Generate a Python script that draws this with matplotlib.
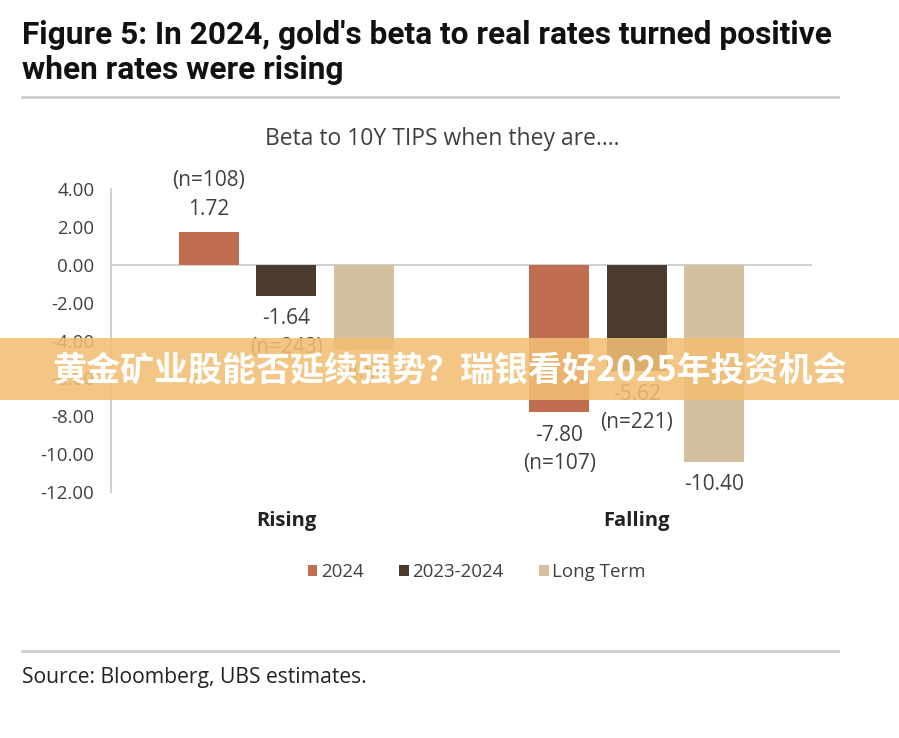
import matplotlib.pyplot as plt
import numpy as np
from matplotlib.patches import Rectangle

categories = ["Rising", "Falling"]
series_names = ["2024", "2023-2024", "Long Term"]
beta_2024 = [1.72, -7.80]
beta_2023_2024 = [-1.64, -5.62]
beta_long_term = [-4.50, -10.40]
n_2024 = ["(n=108)", "(n=107)"]
n_2023_2024 = ["(n=243)", "(n=221)"]
y_ticks = [4, 2, 0, -2, -4, -6, -8, -10, -12]

colors = ["#C06D52", "#4B3B2F", "#D3C09E"]
text_color = "#404040"
font = "Open Sans"

fig = plt.figure(figsize=(8.99, 7.38), dpi=100)
ax = fig.add_axes([111/899, 1-492/738, (812-111)/899, (492-189)/738])

x = np.arange(len(categories))
offset = 0.221
width = 0.171
all_series = [beta_2024, beta_2023_2024, beta_long_term]
n_labels = [n_2024, n_2023_2024, None]
for i, vals in enumerate(all_series):
    xs = x + (i-1)*offset
    ax.bar(xs, vals, width, color=colors[i], label=series_names[i], zorder=2)
    for j, v in enumerate(vals):
        sign = 1 if v >= 0 else -1
        ax.annotate("%.2f" % v, (xs[j], v), xytext=(0, sign*16.5), textcoords="offset points",
                    ha="center", va="center", fontsize=15, color=text_color, family=font)
        if n_labels[i] is not None:
            ax.annotate(n_labels[i][j], (xs[j], v), xytext=(0, sign*37), textcoords="offset points",
                        ha="center", va="center", fontsize=15, color=text_color, family=font)

ax.set_xlim(-0.5, 1.5)
ax.set_ylim(-12, 4)
ax.set_yticks(y_ticks)
ax.set_yticklabels(["%.2f" % t for t in y_ticks], fontsize=13.5, color=text_color, family=font)
ax.tick_params(axis="y", length=0, pad=12)
ax.tick_params(axis="x", length=0, pad=14)
ax.set_xticks(x)
ax.set_xticklabels(categories, fontsize=14.5, fontweight="bold", color="#222222", family=font)
ax.axhline(0, color="#C8C8C8", lw=1.2, zorder=1)
for s in ["top", "right", "bottom"]:
    ax.spines[s].set_visible(False)
ax.spines["left"].set_color("#C8C8C8")
ax.spines["left"].set_linewidth(1.2)

leg = ax.legend(loc="upper center", bbox_to_anchor=(0.522, -0.18), ncol=3, frameon=False,
                handlelength=0.5, handleheight=0.5, handletextpad=0.2, columnspacing=1.9,
                prop={"family": font, "size": 13.5})
for t in leg.get_texts():
    t.set_color(text_color)

fig.text(442/899, 1-139/738, "Beta to 10Y TIPS when they are....", ha="center", va="center",
         fontsize=16.5, color=text_color, family=font)

title_font = ["Roboto"]
fig.text(22/899, 1-35/738, "Figure 5: In 2024, gold's beta to real rates turned positive",
         ha="left", va="center", fontsize=22.8, fontweight="bold", family=title_font,
         fontstretch="condensed", color="#111111")
fig.text(22/899, 1-70/738, "when rates were rising",
         ha="left", va="center", fontsize=22.8, fontweight="bold", family=title_font,
         fontstretch="condensed", color="#111111")
fig.lines.append(plt.Line2D([22/899, 838/899], [1-97/738, 1-97/738], transform=fig.transFigure,
                            color="#CCCCCC", lw=2))
fig.lines.append(plt.Line2D([22/899, 838/899], [1-651/738, 1-651/738], transform=fig.transFigure,
                            color="#CCCCCC", lw=2))
fig.text(22/899, 1-678/738, "Source: Bloomberg, UBS estimates.", ha="left", va="center",
         fontsize=15.2, color="#222222", family=font)

# overlay banner
fig.patches.append(Rectangle((0, 1-400/738), 1, 62/738, transform=fig.transFigure,
                             facecolor="#F2BE74", alpha=0.88, edgecolor="none", zorder=5))
fig.text(0.5, 1-370/738, "黄金矿业股能否延续强势？瑞银看好2025年投资机会", ha="center", va="center",
         fontsize=24.5, fontweight="heavy", color="white", zorder=6,
         family=["Noto Sans CJK SC", "DejaVu Sans"])

fig.savefig("out.png", dpi=100)
